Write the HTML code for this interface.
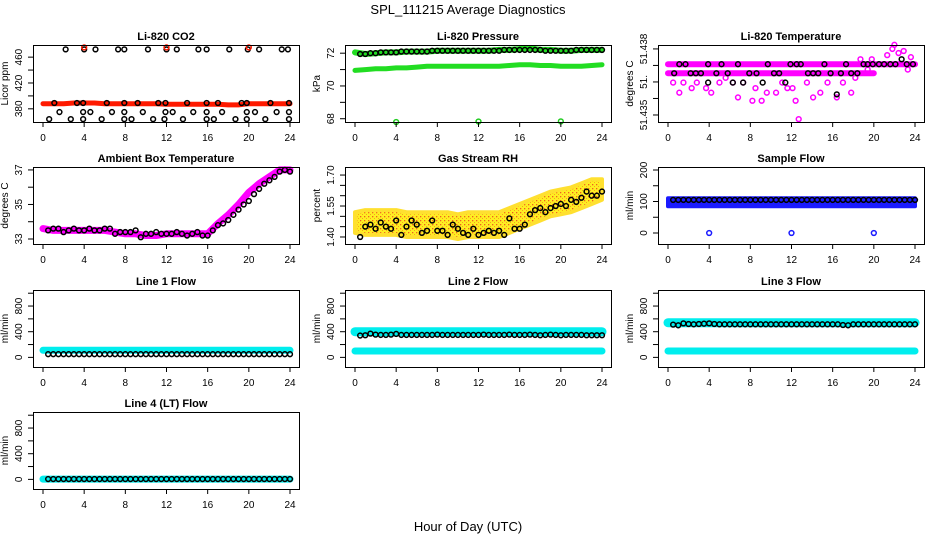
<!DOCTYPE html>
<html><head><meta charset="utf-8"><style>
body{margin:0;background:#fff}
svg{display:block;font-family:"Liberation Sans",Arial,sans-serif}
</style></head><body>
<svg id="c" width="936" height="540" xmlns="http://www.w3.org/2000/svg">
<defs>
<pattern id="rhpat" width="4" height="4" patternUnits="userSpaceOnUse"><rect width="4" height="4" fill="#ffee22"/><rect width="1.3" height="1.3" fill="#f06020"/><rect x="2" y="2" width="1" height="1" fill="#f8a020"/></pattern>
</defs>
<text x="468" y="14" text-anchor="middle" font-size="13">SPL_111215  Average Diagnostics</text>
<text x="468" y="531" text-anchor="middle" font-size="13">Hour of Day (UTC)</text>
</svg>
<script>
// ---- data ----
const hours=[0,1,2,3,4,5,6,7,8,9,10,11,12,13,14,15,16,17,18,19,20,21,22,23,24];
const xTicks=[0,4,8,12,16,20,24];
// CO2
const co2Band=[388,388,388,389,389,389,388,388,388,388,388,388,387,387,387,387,387,387,386,386,388,388,388,388,388];
const co2LowT=[1.1,3.3,3.9,6.2,7.9,9.2,11.2,11.9,14,15.9,17,19.3,19.8,22.1,23.9];
const co2LowV=[389,389,389,389,389,389,389,389,389,389,389,389,389,389,389];
const co2HighT=[2.2,4,5.1,7.3,7.9,10.2,12,13,15.1,15.9,18.1,19.9,21,23.2,23.8];
const co2HighV=[472,472,472,472,472,472,472,472,472,472,472,472,472,472,472];
const co2RedT=[4,12,20];
const co2RedV=[475,475,475];
const co2Sq1T=[1.6,3.9,4.6,6.7,7.9,9.7,11.9,12.6,14.6,15.9,17.4,19.8,20.6,22.7,23.9];
const co2Sq1V=[375,375,375,375,375,375,375,375,375,375,375,375,375,375,375];
const co2Sq2T=[0.6,2.7,3.9,5.7,7.9,8.6,10.7,11.8,13.6,15.9,16.6,18.7,19.8,21.6,23.9];
const co2Sq2V=[364,364,364,364,364,364,364,364,364,364,364,364,364,364,364];
// Pressure
const presUpper=[72.05,71.95,72.0,72.05,72.05,72.1,72.1,72.1,72.15,72.15,72.15,72.15,72.15,72.15,72.2,72.2,72.25,72.3,72.2,72.2,72.15,72.15,72.2,72.2,72.2];
const presBlack=[72.0,71.95,72.0,72.05,72.05,72.1,72.1,72.1,72.15,72.15,72.15,72.15,72.15,72.15,72.15,72.2,72.2,72.2,72.2,72.15,72.15,72.15,72.2,72.2,72.2];
const presLower=[70.95,71.0,71.05,71.05,71.1,71.1,71.15,71.2,71.2,71.2,71.2,71.2,71.2,71.2,71.2,71.25,71.3,71.3,71.25,71.25,71.2,71.2,71.2,71.25,71.3];
const presOutT=[4,12,20];
const presOutV=[67.8,67.83,67.84];
// Li-820 temperature
const ltBand1=[51.43746,51.43746,51.43746,51.43746,51.43746,51.43746,51.43746,51.43746,51.43746,51.43746,51.43746,51.43746,51.43746,51.43746,51.43746,51.43746,51.43746,51.43746,51.43746,51.43746,51.43746,51.43746,51.43746,51.43746,51.43746];
const ltBand2=[51.43702,51.43702,51.43702,51.43702,51.43702,51.43702,51.43702,51.43702,51.43702,51.43702,51.43702,51.43702,51.43702,51.43702,51.43702,51.43702,51.43702,51.43702,51.43702,51.43702,51.43702,51.43746,51.43746,51.43746,51.43746];
const ltMagT=[0.5,1.1,1.5,2.3,2.8,3.7,4.2,5.0,5.6,6.3,6.8,7.3,8.2,8.5,9.1,9.6,10.5,11.1,11.6,12.1,12.4,12.7,13.5,14.1,14.8,15.5,16.4,17.0,17.8,18.2,18.7,19.4,19.8,21.3,21.8,22.0,22.4,22.9,23.3,23.6];
const ltMagV=[51.43657,51.43608,51.43657,51.43630,51.43657,51.43630,51.43608,51.43657,51.43680,51.43657,51.43585,51.43657,51.43569,51.43630,51.43569,51.43608,51.43608,51.43657,51.43630,51.43630,51.43569,51.4348,51.43657,51.43585,51.43608,51.43657,51.43585,51.43657,51.43608,51.43680,51.43770,51.43720,51.43770,51.43790,51.43820,51.43840,51.43800,51.43810,51.43720,51.43780];
const ltBlkT=[0.6,1.1,1.7,2.2,2.7,3.2,3.9,3.9,4.7,5.2,5.8,6.3,6.8,7.3,7.9,8.6,9.2,9.7,10.3,10.8,11.4,11.9,12.5,12.9,13.6,14.1,14.6,15.2,15.8,16.4,16.8,17.3,17.8,18.4,19.0,19.4,19.9,20.5,21.0,21.6,22.1,22.7,23.2,23.8];
const ltBlkV=[51.43702,51.43746,51.43746,51.43702,51.43702,51.43702,51.43657,51.43746,51.43702,51.43746,51.43702,51.43657,51.43746,51.43657,51.43702,51.43702,51.43657,51.43746,51.43702,51.43702,51.43657,51.43746,51.43746,51.43746,51.43702,51.43702,51.43702,51.43746,51.43702,51.43600,51.43702,51.43746,51.43702,51.43702,51.43746,51.43746,51.43746,51.43746,51.43746,51.43746,51.43746,51.43770,51.43746,51.43746];
// Ambient box temperature
const ambBand=[33.6,33.5,33.5,33.5,33.5,33.5,33.5,33.4,33.3,33.3,33.2,33.2,33.3,33.3,33.3,33.3,33.3,33.9,34.4,35.0,35.7,36.2,36.6,37.0,37.0];
const ambCircle=[33.5,33.6,33.6,33.4,33.5,33.6,33.5,33.5,33.6,33.5,33.5,33.6,33.6,33.3,33.4,33.4,33.4,33.5,33.1,33.3,33.3,33.4,33.3,33.3,33.3,33.4,33.3,33.2,33.3,33.4,33.2,33.2,33.5,33.8,33.9,34.1,34.4,34.7,35.0,35.2,35.6,35.9,36.2,36.4,36.6,36.9,37.0,36.9];
// Gas stream RH
const rhCenter=[1.47,1.47,1.47,1.47,1.47,1.46,1.46,1.46,1.46,1.46,1.45,1.46,1.46,1.46,1.46,1.48,1.50,1.52,1.54,1.56,1.57,1.58,1.60,1.62,1.63];
const rhSpread=[0.05,0.06,0.06,0.06,0.06,0.06,0.06,0.06,0.06,0.06,0.06,0.06,0.06,0.06,0.06,0.06,0.06,0.06,0.06,0.06,0.06,0.06,0.06,0.06,0.05];
const rhCircle=[1.40,1.45,1.46,1.44,1.47,1.45,1.44,1.48,1.41,1.45,1.48,1.46,1.42,1.43,1.48,1.43,1.43,1.41,1.46,1.44,1.42,1.41,1.44,1.41,1.42,1.43,1.42,1.43,1.41,1.49,1.44,1.44,1.46,1.51,1.53,1.54,1.52,1.54,1.55,1.56,1.55,1.58,1.57,1.59,1.62,1.60,1.60,1.62];
// Sample flow
const sfLow=[85,85,85,85,85,85,85,85,85,85,85,85,85,85,85,85,85,85,85,85,85,85,85,85,85];
const sfHigh=[110,110,110,110,110,110,110,110,110,110,110,110,110,110,110,110,110,110,110,110,110,110,110,110,110];
const sfCircle=[105,105,105,105,105,105,105,105,105,105,105,105,105,105,105,105,105,105,105,105,105,105,105,105,105,105,105,105,105,105,105,105,105,105,105,105,105,105,105,105,105,105,105,105,105,105,105,105];
const sfOutT=[4,12,20];
const sfOutV=[0,0,0];
// Line flows
const l1Cyan=[110,110,110,110,110,110,110,110,110,110,110,110,110,110,110,110,110,110,110,110,110,110,110,110,110];
const l1Black=[50,50,50,50,50,50,50,50,50,50,50,50,50,50,50,50,50,50,50,50,50,50,50,50,50,50,50,50,50,50,50,50,50,50,50,50,50,50,50,50,50,50,50,50,50,50,50,50];
const l2CyanHi=[400,400,400,400,400,400,400,400,400,400,400,400,400,400,400,400,400,400,400,400,400,400,400,400,400];
const l2CyanLo=[100,100,100,100,100,100,100,100,100,100,100,100,100,100,100,100,100,100,100,100,100,100,100,100,100];
const l2Black=[340,345,370,355,350,350,355,365,350,350,350,350,350,350,350,355,350,350,350,350,350,350,350,350,355,350,350,350,350,355,350,350,350,355,350,345,350,355,350,345,350,350,350,350,345,345,345,345];
const l3CyanHi=[540,540,540,540,540,540,540,540,540,540,540,540,540,540,540,540,540,540,540,540,540,540,540,540,540];
const l3CyanLo=[100,100,100,100,100,100,100,100,100,100,100,100,100,100,100,100,100,100,100,100,100,100,100,100,100];
const l3Black=[510,500,530,520,515,520,525,530,520,515,515,515,515,515,515,515,515,515,515,515,515,515,515,515,515,515,515,515,515,515,515,515,515,505,500,515,515,515,515,515,515,515,515,515,515,515,515,515];
const l4Cyan=[5,5,5,5,5,5,5,5,5,5,5,5,5,5,5,5,5,5,5,5,5,5,5,5,5];
const l4Black=[5,5,5,5,5,5,5,5,5,5,5,5,5,5,5,5,5,5,5,5,5,5,5,5,5,5,5,5,5,5,5,5,5,5,5,5,5,5,5,5,5,5,5,5,5,5,5,5];
const flowTicks=[0,200,400,600,800,1000];
const flowLabels=["0","","400","","800",""];

// ---- drawing ----
const NS="http://www.w3.org/2000/svg";
const svg=document.getElementById('c');
const cols=[{bx:33,x0:43,x1:290},{bx:345,x0:355,x1:602},{bx:658,x0:668,x1:915}];
const rows=[45,167,290,412];
const BW=266,BH=77;
function el(tag,attrs,parent){const e=document.createElementNS(NS,tag);for(const k in attrs)e.setAttribute(k,attrs[k]);(parent||svg).appendChild(e);return e;}
function halfHours(n){const t=[];for(let i=0;i<n;i++)t.push((i+1)*0.5);return t;}

function panel(name,title,c,r,ymin,ymax,yTicks,yLabels,ylab){
  const C=cols[c],top=rows[r];
  const g=el('g',{});
  
  
  const X=v=>C.x0+(v-0)/24*(C.x1-C.x0);
  const Y=v=>top+BH-(v-ymin)/(ymax-ymin)*BH;
  const t=el('text',{x:C.bx+BW/2,y:top-5,'text-anchor':'middle','font-size':11,'font-weight':'bold'},g);
  t.textContent=title;
  
  
  const plot=el('g',{},g);
  
  
  const xa=el('g',{stroke:'#000','stroke-width':1},g);
  
  
  el('line',{x1:X(0),x2:X(24),y1:top+BH+0.5,y2:top+BH+0.5},xa);
  xTicks.forEach(v=>{
    el('line',{x1:X(v),x2:X(v),y1:top+BH,y2:top+BH+5},xa);
    const tl=el('text',{x:X(v),y:top+BH+19,'text-anchor':'middle','font-size':10,stroke:'none'},xa);
    tl.textContent=v;
    
    
  });
  const ya=el('g',{stroke:'#000','stroke-width':1},g);
  
  
  el('line',{x1:C.bx+0.5,x2:C.bx+0.5,y1:Y(yTicks[0]),y2:Y(yTicks[yTicks.length-1])},ya);
  yTicks.forEach((v,i)=>{
    el('line',{x1:C.bx-5,x2:C.bx,y1:Y(v),y2:Y(v)},ya);
    if(yLabels[i]){
      const yy=Y(v),xx=C.bx-11;
      const tl=el('text',{x:xx,y:yy,'text-anchor':'middle','font-size':10,stroke:'none',transform:`rotate(-90 ${xx} ${yy})`},ya);
      tl.textContent=yLabels[i];
      
      
    }
  });
  const yl=el('text',{x:C.bx-25,y:top+BH/2,'text-anchor':'middle','font-size':10,transform:`rotate(-90 ${C.bx-25} ${top+BH/2})`},g);
  yl.textContent=ylab;
  
  
  el('rect',{x:C.bx+0.5,y:top+0.5,width:BW,height:BH,fill:'none',stroke:'#000','stroke-width':1},g);
  return {X,Y,g:plot};
}
function band(p,ts,vs,color,w,nm){
  const d=ts.map((t,i)=>(i?'L':'M')+p.X(t).toFixed(1)+' '+p.Y(vs[i]).toFixed(1)).join('');
  const e=el('path',{d,stroke:color,'stroke-width':w,fill:'none','stroke-linecap':'round','stroke-linejoin':'round'},p.g);
  
  
}
function area(p,ts,lo,hi,fill,edge,nm){
  let d=ts.map((t,i)=>(i?'L':'M')+p.X(t).toFixed(1)+' '+p.Y(hi[i]).toFixed(1)).join('');
  for(let i=ts.length-1;i>=0;i--)d+='L'+p.X(ts[i]).toFixed(1)+' '+p.Y(lo[i]).toFixed(1);
  const e=el('path',{d:d+'Z',fill,stroke:edge,'stroke-width':4,'stroke-linejoin':'round'},p.g);
  
  
}
function pts(p,ts,vs,color,nm,r){
  ts.forEach((t,i)=>{
    const e=el('circle',{cx:p.X(t),cy:p.Y(vs[i]),r:r||2.4,fill:'none',stroke:color,'stroke-width':1.5},p.g);
    
    
  });
}

let p=panel('co2-panel','Li-820 CO2',0,0,359.6,478.8,[380,400,420,440,460],['380','','420','','460'],'Licor ppm');
band(p,hours,co2Band,'#ff1a00',5,'co2-band');
pts(p,co2Sq1T,co2Sq1V,'#000','co2-point-low');
pts(p,co2Sq2T,co2Sq2V,'#000','co2-point-lower');
pts(p,co2LowT,co2LowV,'#000','co2-point');
pts(p,co2HighT,co2HighV,'#000','co2-point-high');
pts(p,co2RedT,co2RedV,'#ff1a00','co2-red-outlier');

p=panel('pressure-panel','Li-820 Pressure',1,0,67.8,72.5,[68,69,70,71,72],['68','','70','','72'],'kPa');
band(p,hours,presLower,'#22dd22',5,'pressure-lower-band');
band(p,hours,presUpper,'#22dd22',6,'pressure-upper-band');
pts(p,halfHours(48),halfHours(48).map((t)=>presBlack[Math.round(t)]),'#000','pressure-point');
pts(p,presOutT,presOutV,'#22cc22','pressure-outlier');

p=panel('li820-temp-panel','Li-820 Temperature',2,0,51.43466,51.43839,[51.435,51.4358,51.4366,51.4374,51.4382],['51.435','','51.','','51.438'],'degrees C');
band(p,hours,ltBand1,'#ff00ff',6,'li820-temp-band-upper');
band(p,hours.slice(0,21),ltBand2.slice(0,21),'#ff00ff',6,'li820-temp-band-lower');
pts(p,ltMagT,ltMagV,'#ff00ff','li820-temp-magenta-point');
pts(p,ltBlkT,ltBlkV,'#000','li820-temp-point');

p=panel('ambient-temp-panel','Ambient Box Temperature',0,1,32.71,37.17,[33,34,35,36,37],['33','','35','','37'],'degrees C');
band(p,hours,ambBand,'#ff00ff',7,'ambient-band');
pts(p,halfHours(48),ambCircle,'#000','ambient-point');

p=panel('rh-panel','Gas Stream RH',1,1,1.366,1.739,[1.40,1.45,1.50,1.55,1.60,1.65,1.70],['1.40','','','1.55','','','1.70'],'percent');
area(p,hours,rhCenter.map((v,i)=>v-rhSpread[i]),rhCenter.map((v,i)=>v+rhSpread[i]),'url(#rhpat)','#ffe030','rh-cloud');
pts(p,halfHours(48),rhCircle,'#000','rh-point');

p=panel('sample-flow-panel','Sample Flow',2,1,-34.9,209.5,[0,50,100,150,200],['0','','100','','200'],'ml/min');
area(p,hours,sfLow,sfHigh,'#1a1aff','#1a1aff','sample-flow-band');
pts(p,halfHours(48),sfCircle,'#000','sample-flow-point');
pts(p,sfOutT,sfOutV,'#1a1aff','sample-flow-outlier');

p=panel('line1-flow-panel','Line 1 Flow',0,2,-150,1050,flowTicks,flowLabels,'ml/min');
band(p,hours,l1Cyan,'#00eeee',7,'line1-cyan-band');
pts(p,halfHours(48),l1Black,'#000','line1-point');

p=panel('line2-flow-panel','Line 2 Flow',1,2,-150,1050,flowTicks,flowLabels,'ml/min');
band(p,hours,l2CyanHi,'#00eeee',9,'line2-cyan-band-high');
band(p,hours,l2CyanLo,'#00eeee',7,'line2-cyan-band-low');
pts(p,halfHours(48),l2Black,'#000','line2-point');

p=panel('line3-flow-panel','Line 3 Flow',2,2,-150,1050,flowTicks,flowLabels,'ml/min');
band(p,hours,l3CyanHi,'#00eeee',9,'line3-cyan-band-high');
band(p,hours,l3CyanLo,'#00eeee',7,'line3-cyan-band-low');
pts(p,halfHours(48),l3Black,'#000','line3-point');

p=panel('line4-flow-panel','Line 4 (LT) Flow',0,3,-150,1050,flowTicks,flowLabels,'ml/min');
band(p,hours,l4Cyan,'#00eeee',7,'line4-cyan-band');
pts(p,halfHours(48),l4Black,'#000','line4-point');
</script>
</body></html>
